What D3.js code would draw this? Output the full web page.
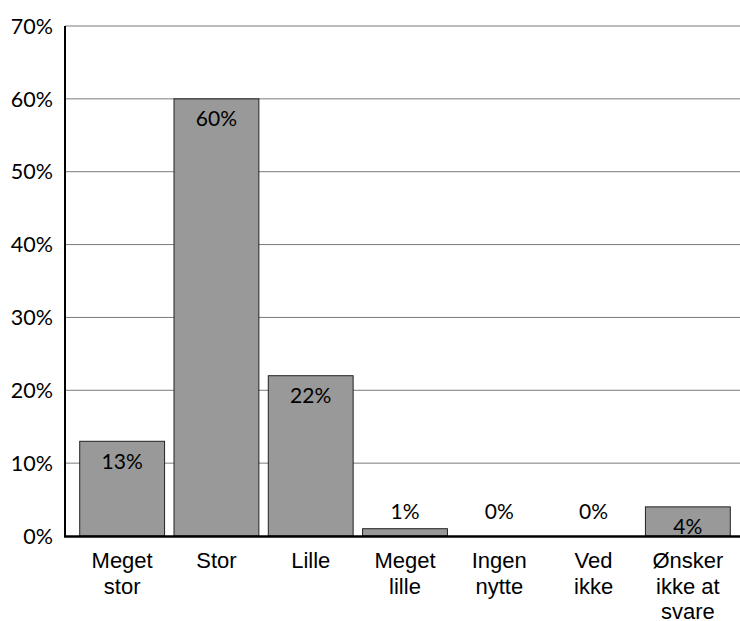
<!DOCTYPE html>
<html>
<head>
<meta charset="utf-8">
<script src="https://cdn.jsdelivr.net/npm/d3@7"></script>
<style>
  body { margin: 0; background: #fff; }
  .tick-y { font-family: Lato, sans-serif; font-size: 21.5px; fill: #000; }
  .val { font-family: Lato, sans-serif; font-size: 21px; fill: #000; }
  .cat { font-family: "Liberation Sans", Arial, sans-serif; font-size: 22px; fill: #000; }
</style>
</head>
<body>
<div id="chart"></div>
<script>
// answers and shares (%)
var categories = [["Meget", "stor"], ["Stor"], ["Lille"], ["Meget", "lille"],
                  ["Ingen", "nytte"], ["Ved", "ikke"], ["Ønsker", "ikke at", "svare"]];
var values = [13, 60, 22, 1, 0, 0, 4];
var yTicks = [0, 10, 20, 30, 40, 50, 60, 70];

var width = 740, height = 621;
var svg = d3.select("#chart").append("svg")
  .attr("width", width)
  .attr("height", height)
  .style("display", "block");

var x = d3.scaleBand()
  .domain(d3.range(values.length))
  .range([75, 735])
  .paddingInner(0.1)
  .paddingOuter(0.05);

var y = d3.scaleLinear()
  .domain([0, 70])
  .range([536, 26]);

// gridlines
svg.append("g")
  .selectAll("line")
  .data(yTicks.slice(1))
  .enter().append("line")
  .attr("x1", 65).attr("x2", 740)
  .attr("y1", d => y(d)).attr("y2", d => y(d))
  .attr("stroke", "#7a7a7a")
  .attr("stroke-width", 1);

// y labels
svg.append("g")
  .selectAll("text")
  .data(yTicks)
  .enter().append("text")
  .attr("class", "tick-y")
  .attr("x", 53)
  .attr("y", d => y(d))
  .attr("dy", "0.36em")
  .attr("text-anchor", "end")
  .text(d => d + "%");

// bars
svg.append("g")
  .selectAll("rect")
  .data(values)
  .enter().append("rect")
  .attr("x", (d, i) => x(i))
  .attr("y", d => y(d))
  .attr("width", x.bandwidth())
  .attr("height", d => y(0) - y(d))
  .attr("fill", "#999999")
  .attr("stroke", "#222")
  .attr("stroke-width", 1);

// value labels: inside the bar if there is room, else above the axis
svg.append("g")
  .selectAll("text")
  .data(values)
  .enter().append("text")
  .attr("class", "val")
  .attr("x", (d, i) => x(i) + x.bandwidth() / 2)
  .attr("y", d => (y(0) - y(d) > 20) ? y(d) + 20 : y(0) - 25)
  .attr("dy", "0.36em")
  .attr("text-anchor", "middle")
  .text(d => d + "%");

// axes lines
svg.append("line")
  .attr("x1", 65).attr("x2", 65)
  .attr("y1", 26).attr("y2", 537)
  .attr("stroke", "#000").attr("stroke-width", 2);
svg.append("line")
  .attr("x1", 64).attr("x2", 740)
  .attr("y1", 536.5).attr("y2", 536.5)
  .attr("stroke", "#000").attr("stroke-width", 2.5);

// category labels
var cat = svg.append("g")
  .selectAll("text")
  .data(categories)
  .enter().append("text")
  .attr("class", "cat")
  .attr("text-anchor", "middle")
  .attr("x", (d, i) => x(i) + x.bandwidth() / 2)
  .attr("y", 568);
cat.selectAll("tspan")
  .data(d => d)
  .enter().append("tspan")
  .attr("x", function() { return d3.select(this.parentNode).attr("x"); })
  .attr("dy", (d, i) => i ? 25.5 : 0)
  .text(d => d);
</script>
</body>
</html>
